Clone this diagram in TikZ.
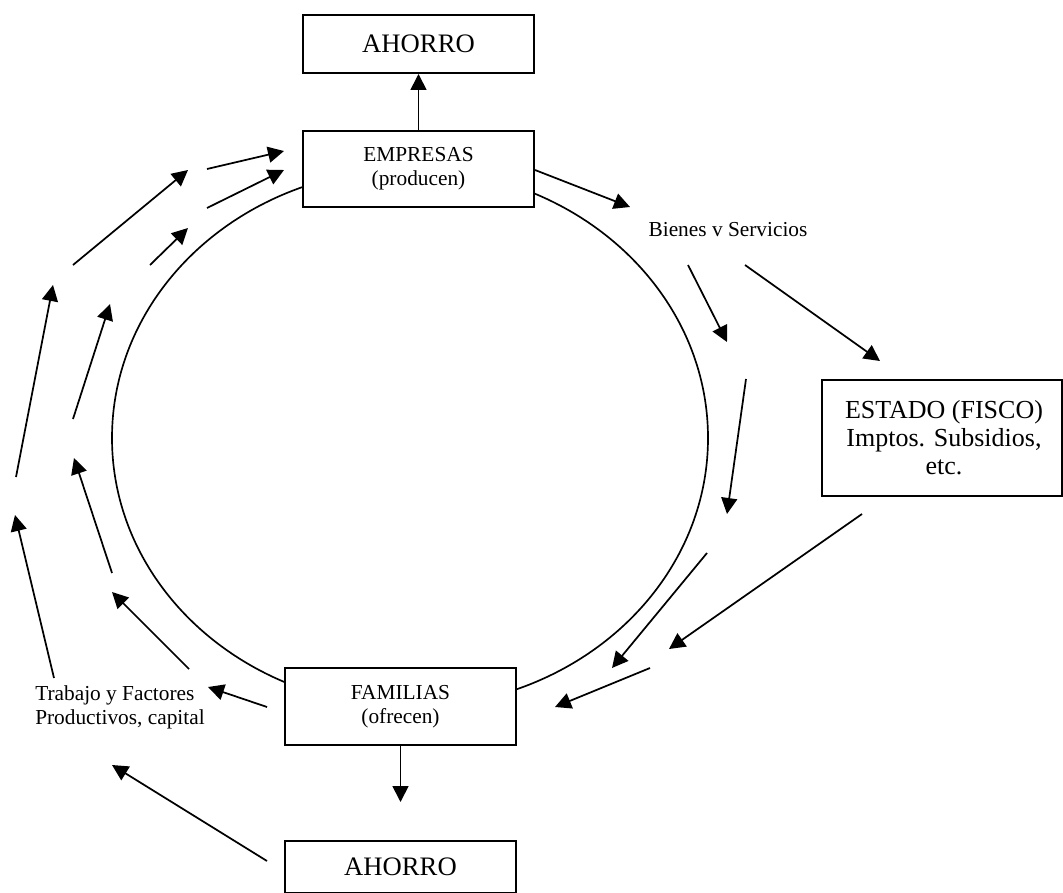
\documentclass[tikz,border=0pt]{standalone}
\usepackage{fontspec}
\setmainfont{Liberation Serif}
\usetikzlibrary{arrows.meta}
\begin{document}
\begin{tikzpicture}[x=0.75pt,y=-0.75pt,
  box/.style={draw,line width=1.5pt,fill=white,rectangle,inner sep=0pt,align=center},
  bigtxt/.style={font=\fontsize{20}{21}\selectfont},
  smalltxt/.style={font=\fontsize{16}{18}\selectfont},
  arr/.style={line width=1.3pt,-{Triangle[length=12pt,width=12pt]}}]
\useasboundingbox (0,0) rectangle (1063,892);
% circular flow
\draw[line width=1.25pt] (410,438) ellipse [x radius=223.5pt, y radius=201.75pt];
% boxes
\node[box,bigtxt,minimum width=173.25pt,minimum height=43.5pt] (ah1) at (418.5,44) {AHORRO};
\node[box,smalltxt,minimum width=173.25pt,minimum height=57pt] (emp) at (418.5,169) {EMPRESAS\\(producen)};
\node[box,smalltxt,minimum width=173.25pt,minimum height=57.75pt] (fam) at (400.5,706.5) {FAMILIAS\\(ofrecen)};
\node[box,bigtxt,minimum width=173.25pt,minimum height=39pt] (ah2) at (400.5,867) {AHORRO};
\node[box,font=\fontsize{19.5}{20.9}\selectfont,minimum width=180pt,minimum height=87pt] (est) at (942,438) {\hspace*{3pt}ESTADO (FISCO)\\\hspace*{3pt}Imptos. Subsidios,\\\hspace*{3pt}etc.};
% labels
\node[smalltxt,inner sep=0pt] (bys) at (728,230) {Bienes v Servicios};
\node[smalltxt,inner sep=0pt,align=left,anchor=west] (tfp) at (35,707) {Trabajo y Factores\\Productivos, capital};
% coordinates
\coordinate (a1t) at (207,169); \coordinate (a1h) at (284,151);
\coordinate (a2t) at (207,208); \coordinate (a2h) at (284,170);
\coordinate (a3t) at (73,265);  \coordinate (a3h) at (188,170);
\coordinate (a4t) at (150,265); \coordinate (a4h) at (188,228);
\coordinate (a5t) at (16,477);  \coordinate (a5h) at (53,285);
\coordinate (a6t) at (73,419);  \coordinate (a6h) at (110,304);
\coordinate (a7t) at (54,678);  \coordinate (a7h) at (15,515);
\coordinate (a8t) at (112,573); \coordinate (a8h) at (74,458);
\coordinate (a9t) at (189,669); \coordinate (a9h) at (112,592);
\coordinate (a10t) at (267,707); \coordinate (a10h) at (208,687);
\coordinate (a11t) at (267,861); \coordinate (a11h) at (112,765);
\coordinate (b1h) at (630,207);
\coordinate (b2t) at (688,265); \coordinate (b2h) at (727,342);
\coordinate (b3t) at (745,265); \coordinate (b3h) at (880,361);
\coordinate (b4t) at (746,379); \coordinate (b4h) at (727,514);
\coordinate (b5t) at (707,553); \coordinate (b5h) at (612,668);
\coordinate (b6t) at (862,514); \coordinate (b6h) at (669,649);
\coordinate (b7t) at (650,668); \coordinate (b7h) at (555,707);
\coordinate (dh) at (400.5,802);
% connectors
\draw[arr] (emp.north) -- (ah1.south);
\draw[arr] (fam.south) -- (dh);
\draw[arr] (a1t) -- (a1h);
\draw[arr] (a2t) -- (a2h);
\draw[arr] (a3t) -- (a3h);
\draw[arr] (a4t) -- (a4h);
\draw[arr] (a5t) -- (a5h);
\draw[arr] (a6t) -- (a6h);
\draw[arr] (a7t) -- (a7h);
\draw[arr] (a8t) -- (a8h);
\draw[arr] (a9t) -- (a9h);
\draw[arr] (a10t) -- (a10h);
\draw[arr] (a11t) -- (a11h);
\draw[arr] ([yshift=-0.75pt]emp.east) -- (b1h);
\draw[arr] (b2t) -- (b2h);
\draw[arr] (b3t) -- (b3h);
\draw[arr] (b4t) -- (b4h);
\draw[arr] (b5t) -- (b5h);
\draw[arr] (b6t) -- (b6h);
\draw[arr] (b7t) -- (b7h);
\end{tikzpicture}
\end{document}
